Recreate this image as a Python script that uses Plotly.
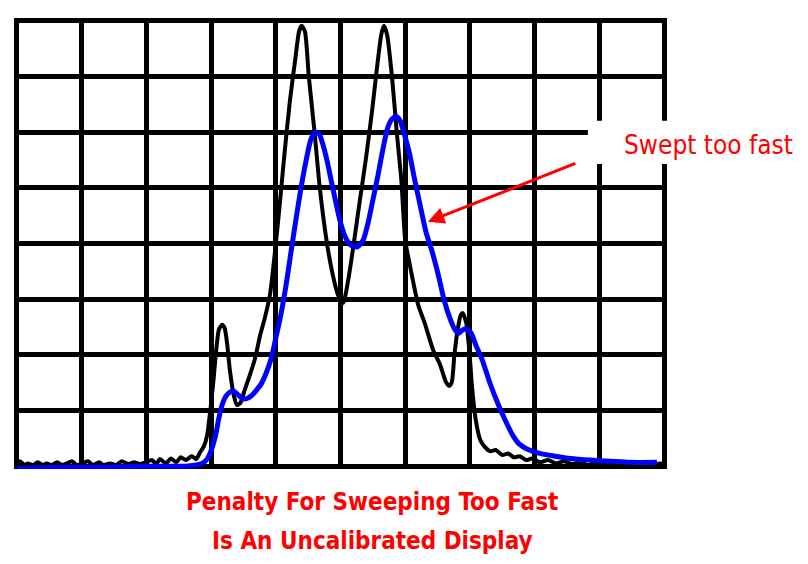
import plotly.graph_objects as go

# screen divisions: 10 across, 8 up
ideal_x = [0.00, 0.05, 0.11, 0.17, 0.25, 0.32, 0.40, 0.46, 0.54, 0.62, 0.70, 0.77, 0.85, 0.93,
           1.00, 1.10, 1.17, 1.27, 1.34, 1.44, 1.53, 1.62, 1.72, 1.81, 1.90, 1.99, 2.09, 2.15,
           2.21, 2.30, 2.38, 2.46, 2.53, 2.61, 2.70, 2.77, 2.83, 2.89, 2.94, 2.98, 3.03, 3.08,
           3.12, 3.17, 3.21, 3.25, 3.29, 3.35, 3.40, 3.45, 3.52, 3.60, 3.68, 3.76, 3.83, 3.91,
           3.99, 4.06, 4.14, 4.22, 4.30, 4.36, 4.40, 4.45, 4.51, 4.60, 4.68, 4.79, 4.88, 4.96,
           5.04, 5.12, 5.19, 5.30, 5.39, 5.49, 5.56, 5.63, 5.67, 5.72, 5.80, 5.87, 5.94, 6.00,
           6.07, 6.20, 6.31, 6.43, 6.54, 6.63, 6.68, 6.72, 6.76, 6.81, 6.86, 6.89, 6.94, 6.99,
           7.03, 7.09, 7.16, 7.22, 7.31, 7.40, 7.50, 7.59, 7.68, 7.77, 7.87, 7.96, 8.08, 8.21,
           8.33, 8.45, 8.58, 8.70, 8.83, 8.95, 9.07, 9.20, 9.32, 9.44, 9.57, 9.69, 9.81, 9.94,
           10.00]
ideal_y = [0.02, 0.09, 0.02, 0.05, 0.02, 0.07, 0.02, 0.05, 0.02, 0.07, 0.02, 0.05, 0.09, 0.02,
           0.05, 0.09, 0.02, 0.07, 0.02, 0.05, 0.02, 0.09, 0.04, 0.07, 0.04, 0.07, 0.11, 0.04,
           0.13, 0.05, 0.14, 0.07, 0.16, 0.11, 0.18, 0.13, 0.25, 0.36, 0.56, 0.92, 1.46, 2.09,
           2.45, 2.54, 2.48, 2.18, 1.73, 1.28, 1.10, 1.13, 1.37, 1.64, 1.94, 2.36, 2.66, 3.08,
           3.88, 4.69, 5.68, 6.58, 7.30, 7.81, 7.91, 7.81, 7.00, 5.99, 5.00, 4.01, 3.44, 3.08,
           2.93, 3.35, 3.88, 4.78, 5.50, 6.40, 7.12, 7.75, 7.91, 7.75, 6.94, 5.99, 5.14, 4.06,
           3.62, 2.90, 2.54, 2.09, 1.82, 1.51, 1.44, 1.51, 2.00, 2.45, 2.72, 2.75, 2.59, 2.09,
           1.46, 0.83, 0.47, 0.36, 0.27, 0.29, 0.20, 0.23, 0.16, 0.18, 0.11, 0.14, 0.07, 0.11,
           0.05, 0.09, 0.04, 0.07, 0.02, 0.07, 0.04, 0.07, 0.02, 0.05, 0.02, 0.05, 0.02, 0.05,
           0.04]

fast_x = [0.00, 0.66, 1.28, 1.90, 2.52, 2.75, 2.86, 2.94, 2.98, 3.03, 3.08, 3.12, 3.17, 3.23,
          3.29, 3.35, 3.41, 3.48, 3.54, 3.62, 3.69, 3.77, 3.85, 3.93, 4.00, 4.08, 4.16, 4.23,
          4.31, 4.39, 4.47, 4.54, 4.61, 4.67, 4.73, 4.79, 4.88, 4.99, 5.08, 5.16, 5.26, 5.35,
          5.43, 5.50, 5.58, 5.66, 5.73, 5.80, 5.86, 5.92, 5.98, 6.06, 6.14, 6.23, 6.32, 6.41,
          6.51, 6.60, 6.69, 6.77, 6.83, 6.89, 6.95, 7.02, 7.09, 7.19, 7.31, 7.43, 7.56, 7.67,
          7.76, 7.88, 8.08, 8.32, 8.55, 8.86, 9.17, 9.47, 9.89]
fast_y = [-0.04, -0.02, -0.02, 0.00, 0.00, 0.02, 0.05, 0.13, 0.22, 0.38, 0.61, 0.86, 1.10, 1.26,
          1.33, 1.35, 1.29, 1.22, 1.21, 1.26, 1.35, 1.47, 1.67, 1.94, 2.30, 2.73, 3.26, 3.81,
          4.42, 5.00, 5.50, 5.86, 5.99, 5.97, 5.77, 5.50, 5.00, 4.42, 4.10, 3.97, 3.94, 4.06,
          4.39, 4.78, 5.23, 5.72, 6.08, 6.24, 6.28, 6.21, 5.99, 5.65, 5.18, 4.69, 4.21, 3.88,
          3.44, 2.99, 2.66, 2.45, 2.39, 2.45, 2.46, 2.39, 2.18, 1.91, 1.49, 1.13, 0.79, 0.54,
          0.40, 0.31, 0.23, 0.18, 0.14, 0.11, 0.09, 0.07, 0.07]

RED = "#ff0000"
NARROW = "Liberation Sans Narrow, DejaVu Sans Condensed, Arial Narrow, sans-serif"

fig = go.Figure()
fig.add_trace(go.Scatter(x=ideal_x, y=ideal_y, mode="lines",
                         line=dict(color="black", width=4, shape="spline", smoothing=0.6)))
fig.add_trace(go.Scatter(x=fast_x, y=fast_y, mode="lines",
                         line=dict(color="#0000ff", width=5, shape="spline", smoothing=0.6)))

# white patch behind the label, hides the grid there
fig.add_shape(type="rect", xref="paper", yref="paper", x0=0.880, x1=1.3, y0=0.676, y1=0.772,
              fillcolor="white", line_width=0, layer="above")

fig.add_annotation(x=1.065, y=0.718, xref="paper", yref="paper", text="Swept too fast",
                   showarrow=False, font=dict(family=NARROW, size=26, color=RED),
                   xanchor="center", yanchor="middle")
fig.add_annotation(x=6.35, y=4.39, ax=149, ay=-59, text="", showarrow=True,
                   arrowhead=2, arrowsize=1.1, arrowwidth=3, arrowcolor=RED)

fig.add_annotation(x=0.549, y=-0.073, xref="paper", yref="paper",
                   text="<b>Penalty For Sweeping Too Fast</b>", showarrow=False,
                   font=dict(family=NARROW, size=24, color=RED), xanchor="center", yanchor="middle")
fig.add_annotation(x=0.549, y=-0.16, xref="paper", yref="paper",
                   text="<b>Is An Uncalibrated Display</b>", showarrow=False,
                   font=dict(family=NARROW, size=24, color=RED), xanchor="center", yanchor="middle")

# page body has an 8px margin, so the figure is sized/offset to land on the same pixels
fig.update_layout(
    width=800, height=556,
    margin=dict(l=7, r=142, t=10, b=95),
    paper_bgcolor="white", plot_bgcolor="white",
    showlegend=False,
)
fig.update_xaxes(range=[-0.03, 10.03], dtick=1, tick0=0, showgrid=True, gridcolor="black",
                 gridwidth=4.5, zeroline=False, showticklabels=False, ticks="")
fig.update_yaxes(range=[-0.05, 8.05], dtick=1, tick0=0, showgrid=True, gridcolor="black",
                 gridwidth=4.5, zeroline=False, showticklabels=False, ticks="")

fig.write_html("out.html")
